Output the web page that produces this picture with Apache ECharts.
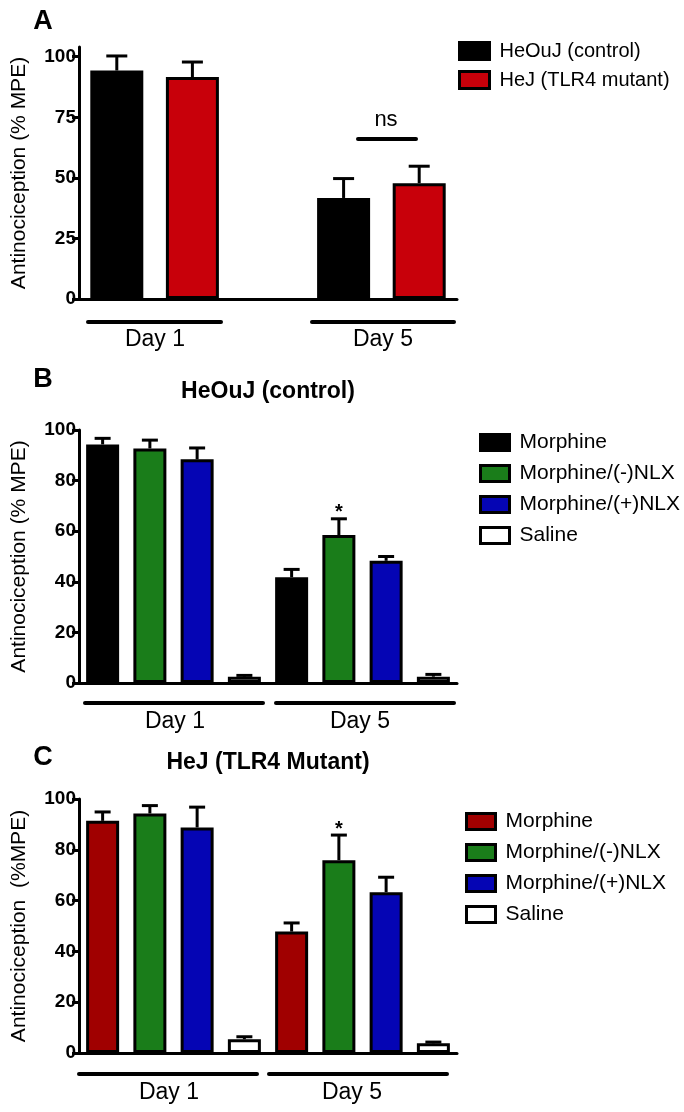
<!DOCTYPE html>
<html>
<head>
<meta charset="utf-8">
<script src="https://cdn.jsdelivr.net/npm/echarts@6/dist/echarts.min.js"></script>
<style>
  body { margin: 0; background: #fff; }
  .panel { position: absolute; left: 0; width: 684px; }
</style>
</head>
<body>
<div id="pa" class="panel" style="top:0;height:355px"></div>
<div id="pb" class="panel" style="top:355px;height:383px"></div>
<div id="pc" class="panel" style="top:738px;height:374px"></div>
<script>
const FONT = '"Liberation Sans", Arial, Helvetica, sans-serif';

// Panel A: two strains, Day 1 / Day 5 (slot 2 is the empty gap)
const strainsA = ['HeOuJ (control)', 'HeJ (TLR4 mutant)'];
const slotsA = ['HeOuJ D1', 'HeJ D1', 'gap', 'HeOuJ D5', 'HeJ D5'];
const heoujA = [94.3, 41.7];
const heoujErrA = [6.0, 8.0];
const hejA = [91.6, 47.8];
const hejErrA = [6.2, 7.0];
const ticksA = [0, 25, 50, 75, 100];

// Panels B and C: four treatments per day
const treatments = ['Morphine', 'Morphine/(-)NLX', 'Morphine/(+)NLX', 'Saline'];
const slotsBC = ['M D1', 'M-NLX D1', 'M+NLX D1', 'Sal D1', 'M D5', 'M-NLX D5', 'M+NLX D5', 'Sal D5'];
const day1B = [94.3, 92.7, 88.4, 2.5];
const day1ErrB = [2.4, 3.3, 4.5, 0.5];
const day5B = [41.8, 58.5, 48.3, 2.5];
const day5ErrB = [3.1, 6.4, 1.7, 0.9];
const day1C = [91.4, 94.3, 88.8, 5.4];
const day1ErrC = [3.5, 3.1, 8.0, 1.0];
const day5C = [47.8, 75.9, 63.3, 3.8];
const day5ErrC = [3.4, 9.9, 5.9, 0.5];
const sigDay1 = ['', '', '', ''];
const sigDay5 = ['', '*', '', ''];
const ticksBC = [0, 20, 40, 60, 80, 100];

const colorsA = ['#000000', '#c8000a'];
const colorsB = ['#000000', '#1a7d1a', '#0505b4', '#ffffff'];
const colorsC = ['#a00000', '#1a7d1a', '#0505b4', '#ffffff'];

function slotData(n, slots, vals) {
  const d = new Array(n).fill('-');
  slots.forEach((s, k) => { d[s] = vals[k]; });
  return d;
}

function errorBar(capHalf, sigs) {
  return function (params, api) {
    const x = api.value(0), v = api.value(1), e = api.value(2);
    const base = api.coord([x, v]);
    const top = api.coord([x, v + e]);
    const stroke = { stroke: '#000', lineWidth: 3 };
    const children = [
      { type: 'line', shape: { x1: base[0], y1: base[1], x2: top[0], y2: top[1] }, style: stroke },
      { type: 'line', shape: { x1: top[0] - capHalf, y1: top[1], x2: top[0] + capHalf, y2: top[1] }, style: stroke }
    ];
    const s = sigs[params.dataIndex];
    if (s) {
      children.push({
        type: 'text',
        style: { text: s, x: top[0], y: top[1] - 6, align: 'center', verticalAlign: 'middle',
                 font: 'bold 20px ' + FONT, fill: '#000' }
      });
    }
    return { type: 'group', children };
  };
}

function txt(x, y, text, size, weight) {
  return { type: 'text', x, y, style: { text, font: weight + ' ' + size + 'px ' + FONT, fill: '#000',
           align: 'center', verticalAlign: 'middle' } };
}
function hline(x1, x2, y, w) {
  return { type: 'line', shape: { x1, y1: y, x2, y2: y }, style: { stroke: '#000', lineWidth: w, lineCap: 'round' } };
}

function yAxisCfg(name, max, step, ticks) {
  return {
    type: 'value', min: 0, max, interval: step,
    axisLine: { show: true, lineStyle: { color: '#000', width: 3 } },
    axisTick: { show: true, length: 7, lineStyle: { color: '#000', width: 3 }, customValues: ticks },
    axisLabel: { customValues: ticks, color: '#000', fontWeight: 'bold', fontSize: 19, fontFamily: FONT, margin: 3 },
    splitLine: { show: false },
    name, nameLocation: 'middle', nameGap: 49,
    nameTextStyle: { fontSize: 21, color: '#000', fontFamily: FONT }
  };
}
function xAxisCfg(slots) {
  return {
    type: 'category', data: slots,
    axisLine: { lineStyle: { color: '#000', width: 3 } },
    axisTick: { show: false }, axisLabel: { show: false }
  };
}
function legendCfg(names, left, top, w, h, gap, size) {
  return {
    orient: 'vertical', left, top, itemWidth: w, itemHeight: h, itemGap: gap, icon: 'rect',
    selectedMode: false, data: names,
    itemStyle: { borderColor: '#000', borderWidth: 3 },
    textStyle: { fontSize: size, lineHeight: h + 3, color: '#000', fontFamily: FONT, padding: [0, 0, 0, 5] }
  };
}
function barSeries(name, data, color, width) {
  return { type: 'bar', name, data, barWidth: width, barGap: '-100%',
           itemStyle: { color, borderColor: '#000', borderWidth: 3 } };
}

// ---- Panel A
const chartA = echarts.init(document.getElementById('pa'));
const errDataA = [];
const sigA = [];
[heoujA, hejA].forEach((vals, i) => {
  const errs = i === 0 ? heoujErrA : hejErrA;
  vals.forEach((v, d) => { errDataA.push([d * 3 + i, v, errs[d]]); sigA.push(''); });
});
chartA.setOption({
  animation: false,
  grid: { left: 79, top: 47, width: 378, height: 252 },
  xAxis: xAxisCfg(slotsA),
  yAxis: yAxisCfg('Antinociception (% MPE)', 104, 25, ticksA),
  legend: legendCfg(strainsA, 453, 36, 30, 17, 9, 20),
  series: [
    barSeries(strainsA[0], slotData(5, [0, 3], heoujA), colorsA[0], 53),
    barSeries(strainsA[1], slotData(5, [1, 4], hejA), colorsA[1], 53),
    { type: 'custom', renderItem: errorBar(10.5, sigA), data: errDataA, z: 3 }
  ],
  graphic: [
    txt(43, 22, 'A', 27, 'bold'),
    txt(386, 120, 'ns', 22, 'normal'),
    hline(358, 416, 139, 4),
    hline(88, 221, 322, 4),
    hline(312, 454, 322, 4),
    txt(155, 340, 'Day 1', 23, 'normal'),
    txt(383, 340, 'Day 5', 23, 'normal')
  ]
});

// ---- Panels B and C
function makePanel(id, opts) {
  const chart = echarts.init(document.getElementById(id));
  const series = treatments.map((t, i) =>
    barSeries(t, slotData(8, [i, 4 + i], [opts.day1[i], opts.day5[i]]), opts.colors[i], 33));
  const errData = [];
  const sigs = [];
  treatments.forEach((t, i) => {
    errData.push([i, opts.day1[i], opts.err1[i]]); sigs.push(sigDay1[i]);
    errData.push([4 + i, opts.day5[i], opts.err5[i]]); sigs.push(sigDay5[i]);
  });
  series.push({ type: 'custom', renderItem: errorBar(8, sigs), data: errData, z: 3 });
  chart.setOption({
    animation: false,
    grid: { left: 79, top: opts.gridTop, width: 378, height: opts.gridH },
    xAxis: xAxisCfg(slotsBC),
    yAxis: yAxisCfg(opts.yName, 100, 20, ticksBC),
    legend: legendCfg(treatments, opts.legLeft, opts.legTop, 29, 16, 10, 21),
    series,
    graphic: [
      txt(43, opts.letterY, opts.letter, 27, 'bold'),
      txt(268, opts.titleY, opts.title, 23, 'bold'),
      hline(opts.line1[0], opts.line1[1], opts.lineY, 4),
      hline(opts.line5[0], opts.line5[1], opts.lineY, 4),
      txt(opts.lab1, opts.labY, 'Day 1', 23, 'normal'),
      txt(opts.lab5, opts.labY, 'Day 5', 23, 'normal')
    ]
  });
  return chart;
}

makePanel('pb', {
  day1: day1B, err1: day1ErrB, day5: day5B, err5: day5ErrB, colors: colorsB,
  gridTop: 75, gridH: 253, yName: 'Antinociception (% MPE)',
  legLeft: 474, legTop: 72, letter: 'B', letterY: 25, title: 'HeOuJ (control)', titleY: 37,
  line1: [85, 263], line5: [276, 454], lineY: 348, lab1: 175, lab5: 360, labY: 367
});
makePanel('pc', {
  day1: day1C, err1: day1ErrC, day5: day5C, err5: day5ErrC, colors: colorsC,
  gridTop: 61, gridH: 254, yName: 'Antinociception  (%MPE)',
  legLeft: 460, legTop: 68, letter: 'C', letterY: 20, title: 'HeJ (TLR4 Mutant)', titleY: 25,
  line1: [79, 257], line5: [269, 447], lineY: 336, lab1: 169, lab5: 352, labY: 355
});
</script>
</body>
</html>
